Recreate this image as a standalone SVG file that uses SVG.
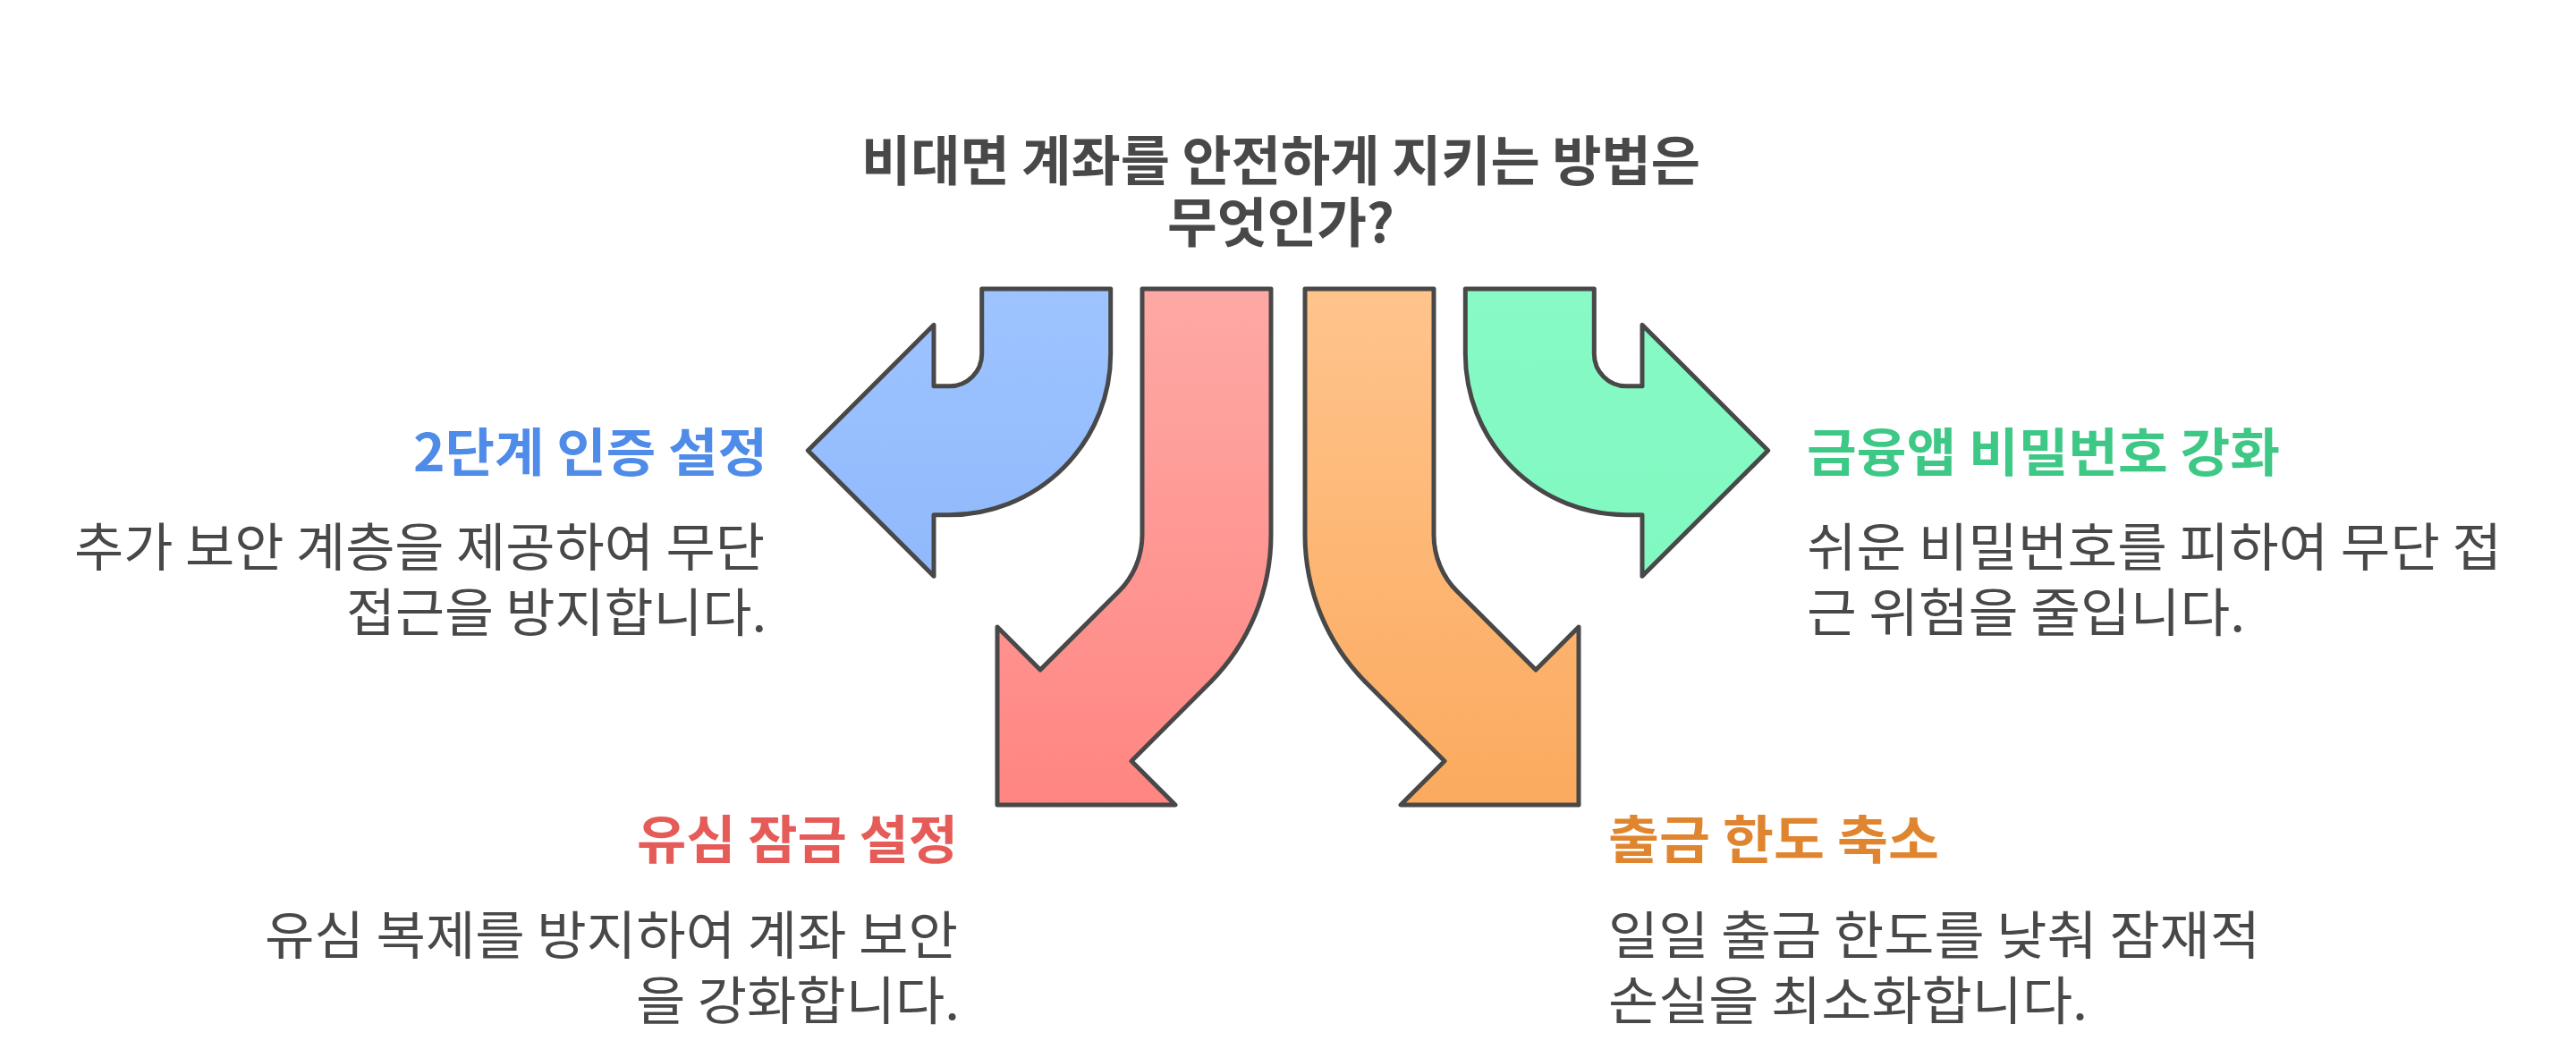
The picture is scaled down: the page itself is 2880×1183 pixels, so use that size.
<svg xmlns="http://www.w3.org/2000/svg" width="2880" height="1183" viewBox="0 0 2880 1183">
<style>
.arrow{stroke:#484848;stroke-width:5;stroke-linejoin:round;}
.t{font-family:"Noto Sans CJK KR","Noto Sans",sans-serif;}
.title{font-size:60px;font-weight:700;fill:#484848;}
.head{font-size:58px;font-weight:700;}
.body{font-size:58px;font-weight:400;fill:#484848;}
</style>
<defs>
<linearGradient id="gBlue" x1="0" y1="0" x2="0" y2="1"><stop offset="0" stop-color="#9ec4ff"/><stop offset="1" stop-color="#90b9fc"/></linearGradient>
<linearGradient id="gRed" x1="0" y1="0" x2="0" y2="1"><stop offset="0" stop-color="#fea9a5"/><stop offset="1" stop-color="#ff8581"/></linearGradient>
<linearGradient id="gOrange" x1="0" y1="0" x2="0" y2="1"><stop offset="0" stop-color="#ffc48c"/><stop offset="1" stop-color="#fbaa5e"/></linearGradient>
<linearGradient id="gGreen" x1="0" y1="0" x2="0" y2="1"><stop offset="0" stop-color="#87fac5"/><stop offset="1" stop-color="#81f8c1"/></linearGradient>
</defs>
<rect width="2880" height="1183" fill="#ffffff"/>
<g id="title" class="t title" text-anchor="middle">
<text x="1432" y="202" textLength="938" lengthAdjust="spacingAndGlyphs">비대면 계좌를 안전하게 지키는 방법은</text>
<text x="1432" y="271" textLength="254" lengthAdjust="spacingAndGlyphs">무엇인가?</text>
</g>
<g id="connectors">
<path id="arrow-blue" class="arrow" fill="url(#gBlue)" d="M1097.7 323 L1241.7 323 L1241.7 395.7 A180 180 0 0 1 1061.7 575.7 L1044 575.7 L1044 644.3 L903.3 503.8 L1044 363.3 L1044 431.7 L1061.7 431.7 A36 36 0 0 0 1097.7 395.7 Z"/>
<path id="arrow-red" class="arrow" fill="url(#gRed)" d="M1277 323 L1421 323 L1421 598 A234 234 0 0 1 1352.5 763.5 L1265 851 L1314 900 L1115 900 L1115 701 L1163 749 L1250.6 661.6 A90 90 0 0 0 1277 598 Z"/>
<path id="arrow-orange" class="arrow" fill="url(#gOrange)" d="M1603 323 L1459 323 L1459 598 A234 234 0 0 0 1527.5 763.5 L1615 851 L1566 900 L1765 900 L1765 701 L1717 749 L1629.4 661.6 A90 90 0 0 1 1603 598 Z"/>
<path id="arrow-green" class="arrow" fill="url(#gGreen)" d="M1782.3 323 L1638.3 323 L1638.3 395.7 A180 180 0 0 0 1818.3 575.7 L1836 575.7 L1836 644.3 L1976.7 503.8 L1836 363.3 L1836 431.7 L1818.3 431.7 A36 36 0 0 1 1782.3 395.7 Z"/>
</g>
<g id="node-2fa" class="t" text-anchor="end">
<text class="head" x="858" y="527" fill="#4f8be8" textLength="396" lengthAdjust="spacingAndGlyphs">2단계 인증 설정</text>
<text class="body" x="855" y="633" textLength="772" lengthAdjust="spacingAndGlyphs">추가 보안 계층을 제공하여 무단</text>
<text class="body" x="857" y="706" textLength="470" lengthAdjust="spacingAndGlyphs">접근을 방지합니다.</text>
</g>
<g id="node-usim" class="t" text-anchor="end">
<text class="head" x="1071" y="960" fill="#e55b58" textLength="359" lengthAdjust="spacingAndGlyphs">유심 잠금 설정</text>
<text class="body" x="1071" y="1067" textLength="775" lengthAdjust="spacingAndGlyphs">유심 복제를 방지하여 계좌 보안</text>
<text class="body" x="1073" y="1140" textLength="362" lengthAdjust="spacingAndGlyphs">을 강화합니다.</text>
</g>
<g id="node-password" class="t" text-anchor="start">
<text class="head" x="2020" y="527" fill="#3ec886" textLength="529" lengthAdjust="spacingAndGlyphs">금융앱 비밀번호 강화</text>
<text class="body" x="2020" y="633" textLength="777" lengthAdjust="spacingAndGlyphs">쉬운 비밀번호를 피하여 무단 접</text>
<text class="body" x="2020" y="706" textLength="490" lengthAdjust="spacingAndGlyphs">근 위험을 줄입니다.</text>
</g>
<g id="node-limit" class="t" text-anchor="start">
<text class="head" x="1798" y="960" fill="#e0852f" textLength="370" lengthAdjust="spacingAndGlyphs">출금 한도 축소</text>
<text class="body" x="1798" y="1067" textLength="729" lengthAdjust="spacingAndGlyphs">일일 출금 한도를 낮춰 잠재적</text>
<text class="body" x="1798" y="1140" textLength="536" lengthAdjust="spacingAndGlyphs">손실을 최소화합니다.</text>
</g>
</svg>
